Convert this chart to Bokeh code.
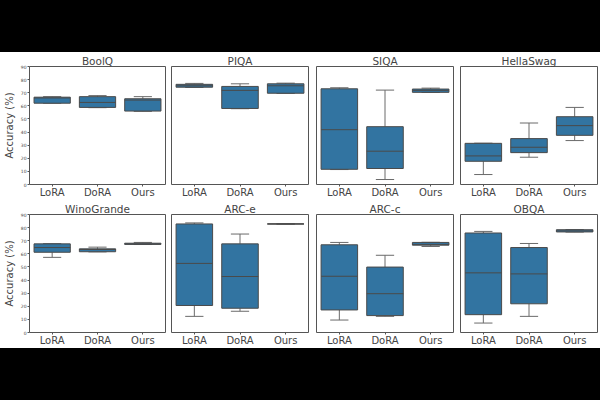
from bokeh.plotting import figure
from bokeh.models import Range1d, FixedTicker, Div, ColumnDataSource
from bokeh.layouts import column, row
from bokeh.embed import file_html
from bokeh.resources import INLINE

tasks = ["BoolQ", "PIQA", "SIQA", "HellaSwag", "WinoGrande", "ARC-e", "ARC-c", "OBQA"]
methods = ["LoRA", "DoRA", "Ours"]

# per method, per task: lower whisker, Q1, median, Q3, upper whisker
lora_lo  = [62.0, 74.0, 11.4, 7.6, 57.3, 12.3, 9.5, 7.2]
lora_q1  = [62.0, 74.2, 11.6, 17.7, 61.2, 20.6, 17.2, 13.6]
lora_med = [66.0, 75.3, 41.8, 21.8, 64.8, 52.7, 42.9, 45.5]
lora_q3  = [66.6, 76.4, 73.0, 31.4, 67.6, 82.8, 66.9, 75.9]
lora_hi  = [67.0, 77.1, 73.8, 31.5, 67.8, 83.6, 68.7, 77.1]

dora_lo  = [58.6, 57.8, 3.8, 20.8, 61.5, 16.2, 12.3, 12.3]
dora_q1  = [58.8, 58.0, 12.2, 24.3, 61.6, 18.5, 12.9, 21.9]
dora_med = [62.6, 71.8, 25.4, 28.4, 63.3, 42.7, 29.6, 44.7]
dora_q3  = [67.0, 74.8, 44.1, 35.0, 63.8, 67.6, 49.9, 64.8]
dora_hi  = [67.8, 76.8, 72.0, 46.9, 65.1, 75.1, 58.9, 67.9]

ours_lo  = [55.8, 69.5, 70.2, 33.5, 67.1, 82.8, 65.6, 76.6]
ours_q1  = [56.0, 69.6, 70.3, 37.5, 67.2, 82.8, 66.6, 76.7]
ours_med = [64.4, 75.3, 71.8, 44.9, 67.6, 82.8, 67.2, 77.5]
ours_q3  = [65.4, 76.8, 72.8, 51.7, 68.1, 82.8, 68.7, 78.4]
ours_hi  = [67.0, 77.3, 73.5, 58.8, 68.7, 82.8, 68.8, 78.5]

stats = {
    "LoRA": (lora_lo, lora_q1, lora_med, lora_q3, lora_hi),
    "DoRA": (dora_lo, dora_q1, dora_med, dora_q3, dora_hi),
    "Ours": (ours_lo, ours_q1, ours_med, ours_q3, ours_hi),
}

y_ticks = list(range(0, 100, 10))

BOX = "#3274a1"
EDGE = "#4a4a4a"
WHISK = "#6a6a6a"
FONT = "DejaVu Sans"

COL_BORDERS = [(25, 140, 3), (3, 137, 4), (4, 137, 3), (4, 137, 3)]


def make_panel(ti, col, rowi):
    first = col == 0
    left, fw, right = COL_BORDERS[col]
    w = left + fw + right
    p = figure(width=w, height=148, x_range=Range1d(-0.5, 2.5), y_range=Range1d(0, 90),
               output_backend="svg", toolbar_location=None, title=tasks[ti],
               min_border_left=left, min_border_right=right,
               min_border_top=0, min_border_bottom=0, margin=0)
    p.title.align = "center"
    p.title.text_font = FONT
    p.title.text_font_size = "10.5px"
    p.title.text_font_style = "normal"
    p.title.standoff = 0
    p.title.offset = 0
    p.xgrid.visible = False
    p.ygrid.visible = False
    p.outline_line_color = "#555555"
    p.outline_line_width = 1
    p.background_fill_color = "white"
    p.border_fill_color = "white"

    xs = list(range(len(methods)))
    lo = [stats[m][0][ti] for m in methods]
    q1 = [stats[m][1][ti] for m in methods]
    med = [stats[m][2][ti] for m in methods]
    q3 = [stats[m][3][ti] for m in methods]
    hi = [stats[m][4][ti] for m in methods]
    src = ColumnDataSource(dict(
        x=xs, lo=lo, q1=q1, med=med, q3=q3, hi=hi,
        xl=[x - 0.4 for x in xs], xr=[x + 0.4 for x in xs],
        cl=[x - 0.2 for x in xs], cr=[x + 0.2 for x in xs],
    ))
    # whiskers
    p.segment(x0="x", y0="q3", x1="x", y1="hi", source=src, line_color=WHISK, line_width=1)
    p.segment(x0="x", y0="lo", x1="x", y1="q1", source=src, line_color=WHISK, line_width=1)
    p.segment(x0="cl", y0="hi", x1="cr", y1="hi", source=src, line_color=WHISK, line_width=1)
    p.segment(x0="cl", y0="lo", x1="cr", y1="lo", source=src, line_color=WHISK, line_width=1)
    # boxes
    p.vbar(x="x", width=0.8, bottom="q1", top="q3", source=src,
           fill_color=BOX, line_color=EDGE, line_width=1)
    # medians
    p.segment(x0="xl", y0="med", x1="xr", y1="med", source=src, line_color=EDGE, line_width=1)

    p.xaxis.ticker = FixedTicker(ticks=xs)
    p.xaxis.major_label_overrides = {i: m for i, m in enumerate(methods)}
    p.xaxis.major_label_text_font = FONT
    p.xaxis.major_label_text_font_size = "10px"
    p.xaxis.major_label_standoff = 0
    p.xaxis.major_tick_out = 2
    p.xaxis.major_tick_in = 0
    p.xaxis.minor_tick_line_color = None
    p.xaxis.axis_line_color = None
    p.xaxis.major_tick_line_color = "#555555"

    if first:
        p.yaxis.ticker = FixedTicker(ticks=y_ticks)
        p.yaxis.axis_label = "Accuracy (%)"
        p.yaxis.axis_label_text_font = FONT
        p.yaxis.axis_label_text_font_size = "10px"
        p.yaxis.axis_label_text_font_style = "normal"
        p.yaxis.axis_label_standoff = 3
        p.yaxis.major_label_text_font = FONT
        p.yaxis.major_label_text_font_size = "4.5px"
        p.yaxis.major_label_standoff = 1
        p.yaxis.major_tick_out = 2
        p.yaxis.major_tick_in = 0
        p.yaxis.minor_tick_line_color = None
        p.yaxis.axis_line_color = None
        p.yaxis.major_tick_line_color = "#555555"
    else:
        p.yaxis.visible = False
    return p


figs = [make_panel(i, i % 4, i // 4) for i in range(len(tasks))]

top_band = Div(text="", width=600, height=52, margin=0,
               styles={"background-color": "black"})
bot_band = Div(text="", width=600, height=52, margin=0,
               styles={"background-color": "black"})

layout = column(top_band, row(*figs[:4], margin=0, spacing=0),
                row(*figs[4:], margin=0, spacing=0), bot_band, margin=0, spacing=0)

open("out.html", "w").write(file_html(layout, INLINE))
